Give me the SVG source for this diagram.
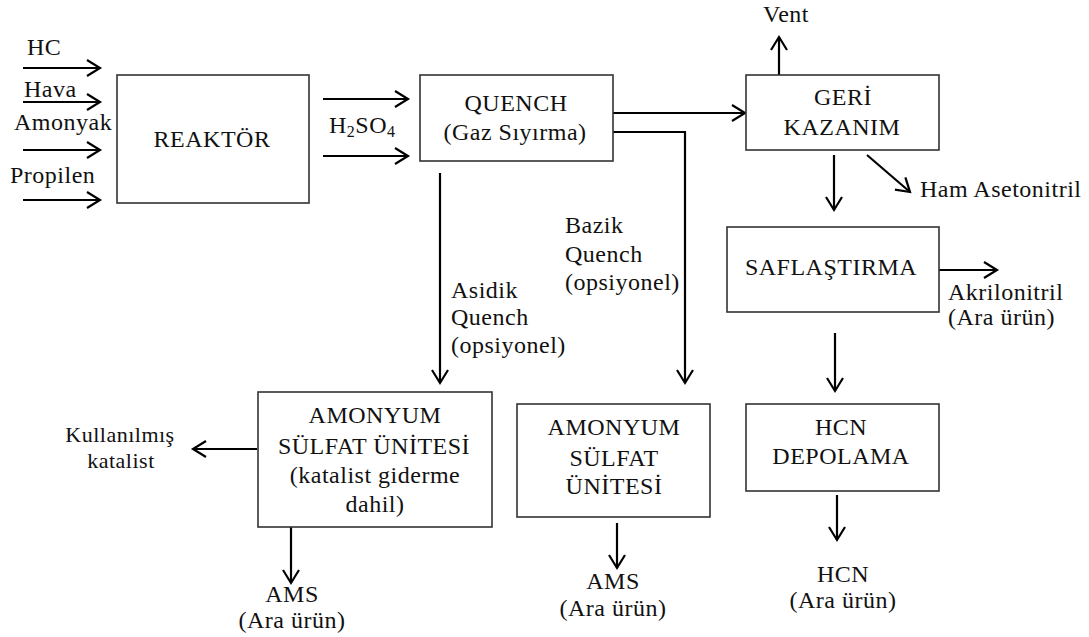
<svg xmlns="http://www.w3.org/2000/svg" width="1089" height="637" viewBox="0 0 1089 637" font-family="'Liberation Serif','DejaVu Serif','Times New Roman',serif">
<style>
text{font-family:"Liberation Serif","DejaVu Serif","Times New Roman",serif;font-size:24px;fill:#111;letter-spacing:0.5px}
.m{text-anchor:middle}
.s{font-size:22px}
.box{fill:#fff;stroke:#333;stroke-width:1.6}
.c{fill:none;stroke:#000;stroke-width:2.2;marker-end:url(#arr)}
</style>
<defs>
<marker id="arr" markerUnits="userSpaceOnUse" viewBox="0 0 20 20" markerWidth="20" markerHeight="20" refX="15" refY="10" orient="auto" overflow="visible">
<path d="M2,2 L15,10 L2,18" fill="none" stroke="#000" stroke-width="2.2"/>
</marker>
</defs>
<rect width="1089" height="637" fill="#fff"/>
<g id="connectors">
<line class="c" x1="23" y1="68" x2="100" y2="68"/>
<line class="c" x1="23" y1="102" x2="100" y2="102"/>
<line class="c" x1="23" y1="150" x2="100" y2="150"/>
<line class="c" x1="23" y1="200" x2="100" y2="200"/>
<line class="c" x1="323" y1="99" x2="408" y2="99"/>
<line class="c" x1="323" y1="156" x2="408" y2="156"/>
<line class="c" x1="613" y1="113" x2="745" y2="113"/>
<polyline class="c" points="613,132 685,132 685,383"/>
<line class="c" x1="440" y1="173" x2="440" y2="383"/>
<line class="c" x1="779" y1="75" x2="779" y2="37"/>
<line class="c" x1="834" y1="155" x2="834" y2="210"/>
<line class="c" x1="867" y1="155" x2="910" y2="192"/>
<line class="c" x1="939" y1="270" x2="997" y2="270"/>
<line class="c" x1="835" y1="333" x2="835" y2="391"/>
<line class="c" x1="837" y1="495" x2="837" y2="540"/>
<line class="c" x1="617" y1="523" x2="617" y2="568"/>
<line class="c" x1="257" y1="449" x2="193" y2="449"/>
<line class="c" x1="291" y1="527" x2="291" y2="583"/>
</g>
<g id="labels">
<text x="27" y="55">HC</text>
<text x="24" y="97">Hava</text>
<text x="14" y="130">Amonyak</text>
<text x="10" y="183">Propilen</text>
<text x="329" y="133">H<tspan font-size="16" dy="4">2</tspan><tspan dy="-4">SO</tspan><tspan font-size="16" dy="4">4</tspan></text>
<text x="451" y="298">Asidik</text>
<text x="451" y="325">Quench</text>
<text x="451" y="353">(opsiyonel)</text>
<text x="565" y="233">Bazik</text>
<text x="565" y="262">Quench</text>
<text x="565" y="290">(opsiyonel)</text>
<text x="763" y="22">Vent</text>
<text x="920" y="197">Ham Asetonitril</text>
<text x="948" y="300">Akrilonitril</text>
<text x="948" y="325">(Ara ürün)</text>
<text class="m s" x="120" y="442">Kullanılmış</text>
<text class="m s" x="121" y="468">katalist</text>
<text class="m" x="292" y="602">AMS</text>
<text class="m" x="292" y="628">(Ara ürün)</text>
<text class="m" x="613" y="589">AMS</text>
<text class="m" x="613" y="616">(Ara ürün)</text>
<text class="m" x="843" y="582">HCN</text>
<text class="m" x="843" y="608">(Ara ürün)</text>
</g>
<g id="reaktor">
<rect class="box" x="117" y="75" width="192" height="128"/>
<text class="m" x="212" y="147">REAKTÖR</text>
</g>
<g id="quench">
<rect class="box" x="420" y="75" width="193" height="86"/>
<text class="m" x="516" y="111">QUENCH</text>
<text class="m" x="515" y="140">(Gaz Sıyırma)</text>
</g>
<g id="geri-kazanim">
<rect class="box" x="746" y="75" width="193" height="75"/>
<text class="m" x="843" y="105">GERİ</text>
<text class="m" x="842" y="135">KAZANIM</text>
</g>
<g id="saflastirma">
<rect class="box" x="727" y="227" width="212" height="85"/>
<text class="m" x="831" y="275">SAFLAŞTIRMA</text>
</g>
<g id="amonyum-1">
<rect class="box" x="258" y="392" width="234" height="135"/>
<text class="m" x="375" y="423">AMONYUM</text>
<text class="m" x="374" y="454">SÜLFAT ÜNİTESİ</text>
<text class="m" x="375" y="483">(katalist giderme</text>
<text class="m" x="375" y="512">dahil)</text>
</g>
<g id="amonyum-2">
<rect class="box" x="517" y="404" width="193" height="113"/>
<text class="m" x="614" y="435">AMONYUM</text>
<text class="m" x="614" y="466">SÜLFAT</text>
<text class="m" x="614" y="494">ÜNİTESİ</text>
</g>
<g id="hcn-depolama">
<rect class="box" x="746" y="404" width="193" height="87"/>
<text class="m" x="841" y="435">HCN</text>
<text class="m" x="841" y="464">DEPOLAMA</text>
</g>
</svg>
